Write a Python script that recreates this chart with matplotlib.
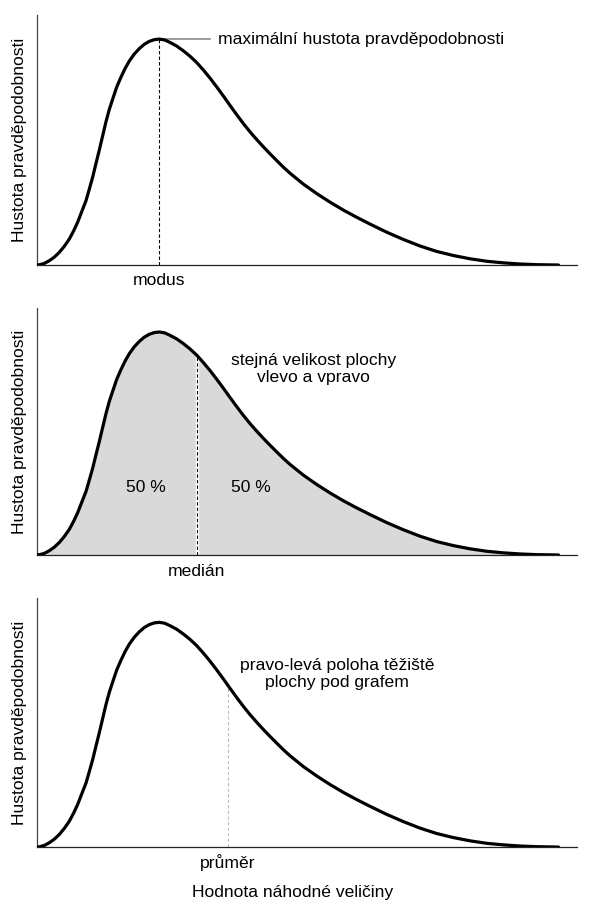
import numpy as np
import matplotlib
matplotlib.use("Agg")
import matplotlib.pyplot as plt

plt.rcParams['font.family'] = ['Liberation Sans', 'DejaVu Sans']

# density curve (x in arbitrary units, y in % of the peak)
curve_x = [0.0, 0.26, 0.76, 1.26, 1.76, 2.26, 2.76, 3.26, 3.68, 4.1, 4.5,
           4.93, 5.26, 5.6, 5.93, 6.26, 6.6, 6.93, 7.26, 7.6, 8.0, 8.43,
           8.85, 9.26, 9.76, 10.26, 10.76, 11.26, 11.76, 12.26, 12.8, 13.33,
           14.0, 14.66, 15.33, 16.0, 16.66, 17.33, 18.0, 18.66, 19.33, 20.0,
           20.66, 21.33, 22.0, 22.66, 23.33, 24.0, 24.66, 25.33, 26.66, 28.0,
           29.33, 30.66, 32.0, 33.33, 35.0, 36.66, 38.33, 40.0, 41.66, 43.33,
           45.0, 46.66, 48.33, 50.0, 52.16]
curve_y = [0.0, 0.1, 0.7, 1.9, 3.5, 5.6, 8.3, 11.5, 15.0, 19.0, 23.6,
           28.5, 33.6, 39.0, 45.0, 50.9, 57.3, 63.5, 68.9, 73.5, 78.8, 83.2,
           87.1, 90.3, 93.4, 95.8, 97.7, 99.0, 99.75, 100.0, 99.6, 98.5,
           96.9, 94.8, 92.4, 89.6, 86.3, 82.7, 78.8, 74.8, 70.6, 66.5,
           62.6, 58.9, 55.5, 52.3, 49.2, 46.2, 43.3, 40.6, 35.8, 31.6,
           27.8, 24.3, 21.1, 18.1, 14.5, 11.3, 8.4, 6.0, 4.2, 2.75,
           1.65, 0.95, 0.45, 0.15, 0.0]

mode_x, mode_y = 12.26, 100.0
median_x, median_y = 16.0, 89.6
mean_x, mean_y = 19.1, 72.0

ylabel = "Hustota pravděpodobnosti"
xlabel = "Hodnota náhodné veličiny"
fs = 12.6

fig = plt.figure(figsize=(5.91, 9.17), dpi=100)
left, width = 0.0621, 0.914
boxes = [(0.711, 0.273), (0.3948, 0.2694), (0.0763, 0.2715)]
axes = [fig.add_axes([left, b, width, h]) for b, h in boxes]

for ax in axes:
    ax.set_xlim(0, 54)
    ax.set_ylim(0, 110.8)
    for side in ['top', 'right']:
        ax.spines[side].set_visible(False)
    ax.spines['left'].set_color('#444444')
    ax.spines['bottom'].set_color('#222222')
    ax.spines['left'].set_linewidth(0.9)
    ax.spines['bottom'].set_linewidth(0.9)
    ax.set_xticks([])
    ax.set_yticks([])
    ax.text(-0.032, 0.5, ylabel, transform=ax.transAxes, rotation=90,
            ha='center', va='center', fontsize=fs)


def draw_curve(ax):
    ax.plot(curve_x, curve_y, color='black', lw=2.3, solid_capstyle='round',
            solid_joinstyle='round', zorder=3)


# 1) modus
ax = axes[0]
ax.plot([mode_x, mode_x], [0, mode_y], color='black', lw=0.8,
        linestyle=(0, (3, 2)), zorder=2)
ax.plot([mode_x, 17.3], [mode_y, mode_y], color='#8c8c8c', lw=1.2, zorder=2)
draw_curve(ax)
ax.text(18.1, 99.7, "maximální hustota pravděpodobnosti", ha='left',
        va='center', fontsize=fs)
ax.text(mode_x, -6.8, "modus", ha='center', va='center', fontsize=fs)

# 2) medián
ax = axes[1]
ax.fill_between(curve_x, curve_y, color='#d9d9d9', lw=0, zorder=1)
ax.plot([median_x, median_x], [0, median_y], color='white', lw=2.4, zorder=2)
ax.plot([median_x, median_x], [0, median_y], color='black', lw=0.8,
        linestyle=(0, (3, 2)), zorder=2)
draw_curve(ax)
ax.text(27.7, 83.3, "stejná velikost plochy\nvlevo a vpravo", ha='center',
        va='center', fontsize=fs, linespacing=1.2)
ax.text(10.9, 30.1, "50 %", ha='center', va='center', fontsize=fs)
ax.text(21.4, 30.1, "50 %", ha='center', va='center', fontsize=fs)
ax.text(median_x, -7.5, "medián", ha='center', va='center', fontsize=fs)

# 3) průměr
ax = axes[2]
ax.plot([mean_x, mean_x], [0, mean_y], color='#bdbdbd', lw=0.8,
        linestyle=(0, (3, 2)), zorder=2)
draw_curve(ax)
ax.text(30.0, 76.9, "pravo-levá poloha těžiště\nplochy pod grafem",
        ha='center', va='center', fontsize=fs, linespacing=1.2)
ax.text(mean_x, -7.1, "průměr", ha='center', va='center', fontsize=fs)
ax.text(25.6, -20.4, xlabel, ha='center', va='center', fontsize=fs)

fig.savefig("out.png", dpi=100)
